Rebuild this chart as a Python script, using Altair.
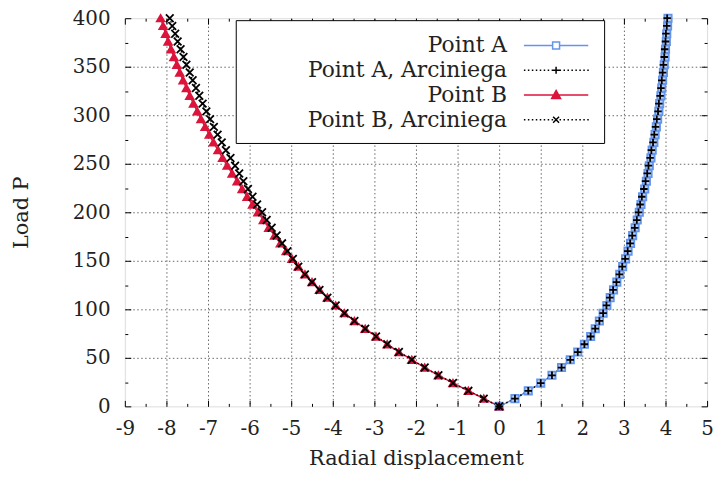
import altair as alt
import pandas as pd
import numpy as np

# ---------------- data ----------------
series_names = ["Point A", "Point A, Arciniega", "Point B", "Point B, Arciniega"]

loads = [0, 8, 16, 24, 32, 40, 48, 56, 64, 72, 80, 88, 96, 104, 112, 120, 128,
         136, 144, 152, 160, 168, 176, 184, 192, 200, 208, 216, 224, 232, 240,
         248, 256, 264, 272, 280, 288, 296, 304, 312, 320, 328, 336, 344, 352,
         360, 368, 376, 384, 392, 400]

point_a = [0.00, 0.38, 0.70, 1.00, 1.27, 1.50, 1.71, 1.89, 2.05, 2.20, 2.31, 2.41,
           2.50, 2.59, 2.67, 2.75, 2.83, 2.90, 2.97, 3.04, 3.10, 3.16, 3.21, 3.27,
           3.32, 3.37, 3.41, 3.45, 3.50, 3.54, 3.58, 3.61, 3.65, 3.68, 3.72, 3.75,
           3.78, 3.81, 3.84, 3.86, 3.89, 3.91, 3.93, 3.95, 3.97, 3.99, 4.00, 4.02,
           4.03, 4.05, 4.06]

point_a_arc = [0.00, 0.38, 0.70, 1.00, 1.27, 1.50, 1.71, 1.89, 2.05, 2.20, 2.31, 2.41,
               2.50, 2.58, 2.66, 2.74, 2.82, 2.89, 2.96, 3.03, 3.09, 3.15, 3.20, 3.26,
               3.31, 3.35, 3.39, 3.43, 3.48, 3.52, 3.56, 3.59, 3.63, 3.66, 3.70, 3.73,
               3.76, 3.79, 3.82, 3.84, 3.87, 3.89, 3.91, 3.93, 3.95, 3.97, 3.98, 4.00,
               4.01, 4.03, 4.04]

point_b = [0.00, -0.37, -0.74, -1.11, -1.46, -1.79, -2.10, -2.41, -2.69, -2.96, -3.22,
           -3.48, -3.72, -3.93, -4.13, -4.32, -4.50, -4.67, -4.83, -4.98, -5.12, -5.26,
           -5.40, -5.54, -5.67, -5.80, -5.93, -6.06, -6.18, -6.30, -6.42, -6.54, -6.65,
           -6.76, -6.87, -6.97, -7.07, -7.17, -7.26, -7.35, -7.44, -7.52, -7.60, -7.68,
           -7.75, -7.82, -7.89, -7.96, -8.02, -8.08, -8.14]

point_b_arc = [0.00, -0.37, -0.74, -1.11, -1.46, -1.79, -2.10, -2.41, -2.69, -2.96, -3.22,
               -3.48, -3.72, -3.93, -4.13, -4.32, -4.50, -4.67, -4.83, -4.96, -5.09, -5.22,
               -5.35, -5.47, -5.59, -5.70, -5.82, -5.93, -6.04, -6.15, -6.25, -6.35, -6.46,
               -6.57, -6.67, -6.77, -6.86, -6.95, -7.04, -7.13, -7.21, -7.29, -7.37, -7.44,
               -7.52, -7.59, -7.66, -7.73, -7.79, -7.86, -7.92]

x_major = [-9, -8, -7, -6, -5, -4, -3, -2, -1, 0, 1, 2, 3, 4, 5]
x_minor = [-8.5, -7.5, -6.5, -5.5, -4.5, -3.5, -2.5, -1.5, -0.5, 0.5, 1.5, 2.5, 3.5, 4.5]
y_major = [0, 50, 100, 150, 200, 250, 300, 350, 400]
y_minor = [25, 75, 125, 175, 225, 275, 325, 375]

# ---------------- table ----------------
frames = []
# drawing order: solid series first, Arciniega on top
for name, xs in [("Point A", point_a), ("Point B", point_b),
                 ("Point A, Arciniega", point_a_arc), ("Point B, Arciniega", point_b_arc)]:
    frames.append(pd.DataFrame({"x": xs, "load": loads, "series": name,
                                "idx": list(range(len(loads)))}))
df = pd.concat(frames, ignore_index=True)

# ---------------- styles ----------------
FONT = "DejaVu Serif"
BLUE = "#6495ed"
RED = "#dc143c"
TXT = "#222222"

line_colors = [BLUE, "black", RED, "black"]
line_dashes = [[1, 0], [1.5, 2.5], [1, 0], [1.5, 2.5]]

plus_path = "M-1,0H1M0,-1V1"
x_path = "M-1,-1L1,1M-1,1L1,-1"
marker_shapes = ["square", plus_path, "triangle-up", x_path]
marker_strokes = [BLUE, "black", RED, "black"]
marker_fills = ["#b9cff5", "transparent", RED, "transparent"]
marker_sizes = [55, 60, 80, 42]

# legend sample symbols: line + marker in one path.
# symbol size 625 -> one path unit = 12.5 px; sample spans +-2.6 units (65 px)
dots = " ".join("M%.3f,0h0.12" % s for s in np.arange(-2.6, 2.55, 0.32))
leg_a = "M-2.6,0H-0.28M0.28,0H2.6M-0.28,-0.28H0.28V0.28H-0.28Z"
leg_a_arc = dots + " M-0.28,0H0.28M0,-0.28V0.28"
leg_b = "M-2.6,0H2.6M0,-0.36L0.36,0.28L-0.36,0.28Z"
leg_b_arc = dots + " M-0.24,-0.24L0.24,0.24M-0.24,0.24L0.24,-0.24"
legend_shapes = [leg_a, leg_a_arc, leg_b, leg_b_arc]
legend_fills = ["white", "transparent", RED, "transparent"]

xscale = alt.Scale(domain=[-9, 5], nice=False, zero=False)
yscale = alt.Scale(domain=[0, 400], nice=False, zero=False)

x_grid_op = {"condition": {"test": "datum.value == -9 || datum.value == 5", "value": 0}, "value": 1}
y_grid_op = {"condition": {"test": "datum.value == 0 || datum.value == 400", "value": 0}, "value": 1}

common_axis = dict(domain=False, tickColor="black", tickWidth=1, labelFlush=False,
                   labelOverlap=False)

main_x = alt.Axis(values=x_major, orient="bottom", grid=True, gridDash=[1.5, 2.5],
                  gridColor="#666666", gridOpacity=x_grid_op, tickSize=6, offset=-6,
                  labelPadding=12, labelExpr="datum.value + ''", labelFont=FONT,
                  labelFontSize=20, labelColor=TXT, title="Radial displacement",
                  titleFont=FONT, titleFontSize=21, titleFontWeight="normal",
                  titleColor=TXT, titlePadding=10, **common_axis)
main_y = alt.Axis(values=y_major, orient="left", grid=True, gridDash=[1.5, 2.5],
                  gridColor="#666666", gridOpacity=y_grid_op, tickSize=6, offset=-6,
                  labelPadding=15, labelFont=FONT, labelFontSize=20, labelColor=TXT,
                  title="Load P", titleFont=FONT, titleFontSize=21,
                  titleFontWeight="normal", titleColor=TXT, titlePadding=41, **common_axis)


def tick_axis(values, orient, size):
    return alt.Axis(values=values, orient=orient, grid=False, labels=False, title=None,
                    tickSize=size, offset=-size, **common_axis)


base = alt.Chart(df)

lines = base.mark_line(strokeWidth=1.5).encode(
    x=alt.X("x:Q", scale=xscale, axis=main_x),
    y=alt.Y("load:Q", scale=yscale, axis=main_y),
    color=alt.Color("series:N", scale=alt.Scale(domain=series_names, range=line_colors), legend=None),
    strokeDash=alt.StrokeDash("series:N", scale=alt.Scale(domain=series_names, range=line_dashes), legend=None),
    order=alt.Order("idx:Q"),
)

points = base.mark_point(strokeWidth=1.8, opacity=1).encode(
    x=alt.X("x:Q", scale=xscale, axis=tick_axis(x_minor, "bottom", 3)),
    y=alt.Y("load:Q", scale=yscale, axis=tick_axis(y_minor, "left", 3)),
    shape=alt.Shape("series:N", scale=alt.Scale(domain=series_names, range=marker_shapes), legend=None),
    stroke=alt.Stroke("series:N", scale=alt.Scale(domain=series_names, range=marker_strokes), legend=None),
    fill=alt.Fill("series:N", scale=alt.Scale(domain=series_names, range=marker_fills), legend=None),
    size=alt.Size("series:N", scale=alt.Scale(domain=series_names, range=marker_sizes), legend=None),
)

top_major = base.mark_point().transform_filter("false").encode(
    x=alt.X("x:Q", scale=xscale, axis=tick_axis(x_major, "top", 6)),
    y=alt.Y("load:Q", scale=yscale, axis=tick_axis(y_major, "right", 6)),
)
top_minor = base.mark_point().transform_filter("false").encode(
    x=alt.X("x:Q", scale=xscale, axis=tick_axis(x_minor, "top", 3)),
    y=alt.Y("load:Q", scale=yscale, axis=tick_axis(y_minor, "right", 3)),
)

leg = alt.Legend(orient="none", legendX=112, legendY=2, title=None, labelFont=FONT,
                 labelFontSize=22, labelColor=TXT, labelAlign="right",
                 labelOffset={"expr": "-63"},
                 symbolOffset=298, labelLimit=400, symbolSize=625, symbolStrokeWidth=1.5,
                 rowPadding=0, padding=12, strokeColor="black",
                 fillColor="white", cornerRadius=0, symbolOpacity=1)

legend_layer = base.mark_point(size=625, strokeWidth=1.5, opacity=1).transform_filter("false").encode(
    shape=alt.Shape("series:N", scale=alt.Scale(domain=series_names, range=legend_shapes), legend=leg),
    stroke=alt.Stroke("series:N", scale=alt.Scale(domain=series_names, range=marker_strokes), legend=leg),
    fill=alt.Fill("series:N", scale=alt.Scale(domain=series_names, range=legend_fills), legend=leg),
)

chart = alt.layer(lines, points, top_major, top_minor, legend_layer).resolve_axis(
    x="independent", y="independent"
).resolve_scale(
    shape="independent", stroke="independent", fill="independent"
).properties(
    width=588, height=392,
    autosize=alt.AutoSizeParams(type="none"),
    padding={"left": 118, "top": 8, "right": 10, "bottom": 65},
).configure_view(stroke="black", strokeWidth=1.2).configure(background="white")

chart.save("out.html", embed_options={"renderer": "svg", "actions": False})
